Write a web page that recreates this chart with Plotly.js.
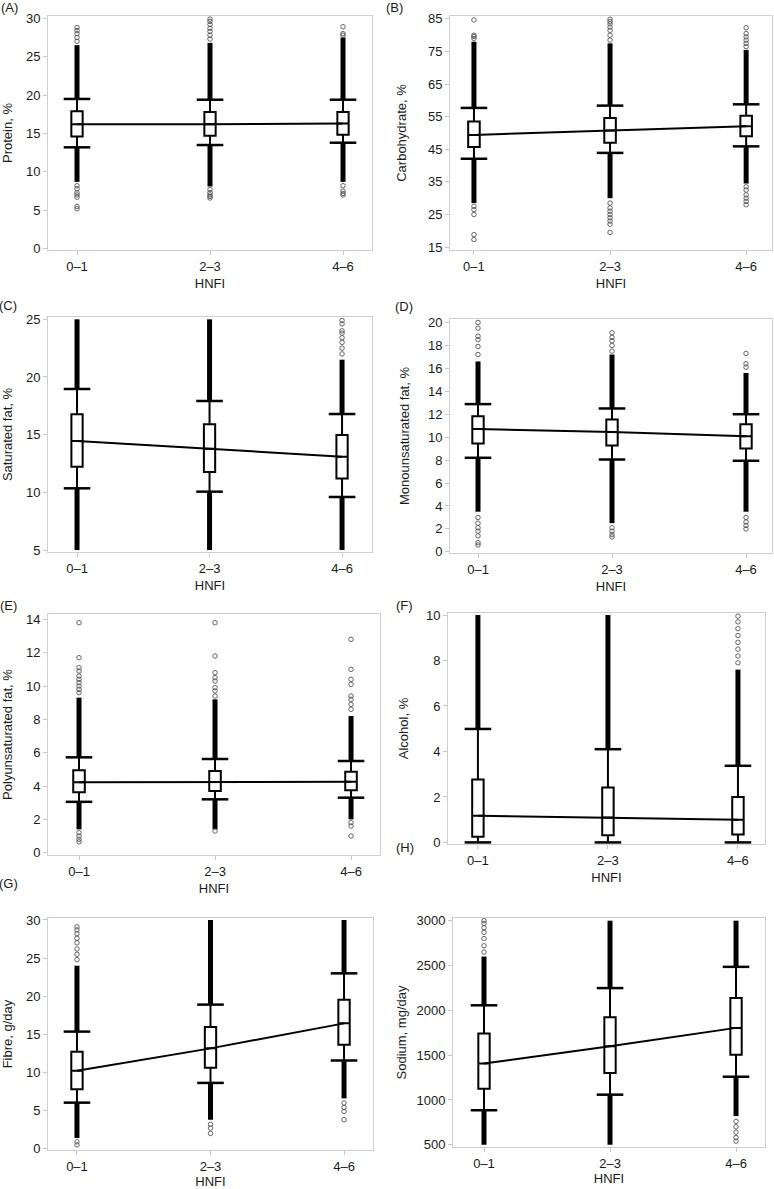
<!DOCTYPE html>
<html><head><meta charset="utf-8">
<script src="https://cdn.plot.ly/plotly-3.0.1.min.js"></script>
<style>html,body{margin:0;padding:0;background:#fff}#chart{width:774px;height:1189px}</style>
</head><body><div id="chart"></div>
<script>
// ---------- DATA ----------
const categories = ['0–1', '2–3', '4–6'];

// (A) Protein, %
const proteinQ1 = [14.6, 14.7, 14.85];
const proteinMedian = [16.2, 16.2, 16.3];
const proteinQ3 = [17.9, 17.8, 17.8];
const proteinLowWhisker = [13.2, 13.5, 13.8];
const proteinHighWhisker = [19.5, 19.4, 19.4];
const proteinDenseHigh = [26.5, 26.8, 27.5];
const proteinDenseLow = [8.7, 8.1, 8.7];
const proteinOutliers = [
  [27.0, 27.5, 28.0, 28.4, 28.8, 8.2, 7.8, 7.3, 7.0, 6.7, 5.5, 5.2],
  [27.3, 27.8, 28.3, 28.7, 29.2, 29.6, 29.9, 7.7, 7.3, 7.0, 6.8, 6.6],
  [27.8, 28.0, 28.9, 8.2, 7.5, 7.2, 7.0]
];

// (B) Carbohydrate, %
const carbQ1 = [45.7, 47.0, 49.0];
const carbMedian = [49.4, 50.8, 52.1];
const carbQ3 = [53.5, 54.6, 55.3];
const carbLowWhisker = [42.1, 43.9, 45.9];
const carbHighWhisker = [57.7, 58.4, 58.8];
const carbDenseHigh = [78.0, 77.5, 75.5];
const carbDenseLow = [28.5, 30.0, 34.5];
const carbOutliers = [
  [79.0, 79.6, 80.0, 84.7, 27.5, 26.5, 25.0, 18.8, 17.3],
  [78.5, 80.0, 81.5, 82.5, 83.5, 84.2, 84.9, 28.5, 27.0, 26.0, 25.0, 24.0, 23.0, 22.0, 19.5],
  [76.5, 77.5, 78.5, 79.5, 80.5, 82.3, 33.5, 32.5, 31.0, 30.0, 29.0, 28.0]
];

// (C) Saturated fat, %
const satQ1 = [12.23, 11.76, 11.21];
const satMedian = [14.45, 13.79, 13.09];
const satQ3 = [16.76, 15.9, 14.97];
const satLowWhisker = [10.35, 10.06, 9.6];
const satHighWhisker = [18.96, 17.92, 16.79];
const satDenseHigh = [25.0, 25.0, 21.5];
const satDenseLow = [5.0, 5.0, 5.0];
const satOutliers = [
  [],
  [],
  [22.0, 22.5, 23.0, 23.4, 23.8, 24.0, 24.6, 24.9]
];

// (D) Monounsaturated fat, %
const monoQ1 = [9.45, 9.27, 9.01];
const monoMedian = [10.7, 10.45, 10.07];
const monoQ3 = [11.83, 11.54, 11.13];
const monoLowWhisker = [8.2, 8.05, 7.94];
const monoHighWhisker = [12.88, 12.5, 12.0];
const monoDenseHigh = [16.6, 17.2, 15.6];
const monoDenseLow = [3.5, 2.5, 3.5];
const monoOutliers = [
  [17.2, 17.9, 18.5, 18.8, 19.5, 20.0, 3.0, 2.5, 2.1, 1.8, 1.4, 0.8, 0.6],
  [17.5, 18.0, 18.4, 18.7, 19.1, 2.1, 1.8, 1.5, 1.3],
  [16.1, 16.4, 17.3, 3.0, 2.6, 2.3, 2.0]
];

// (E) Polyunsaturated fat, %
const polyQ1 = [3.62, 3.7, 3.75];
const polyMedian = [4.22, 4.24, 4.25];
const polyQ3 = [4.95, 4.9, 4.85];
const polyLowWhisker = [3.05, 3.2, 3.3];
const polyHighWhisker = [5.72, 5.62, 5.5];
const polyDenseHigh = [9.3, 9.2, 8.2];
const polyDenseLow = [1.4, 1.4, 2.0];
const polyOutliers = [
  [9.6, 9.8, 10.0, 10.2, 10.4, 10.6, 10.9, 11.1, 11.7, 13.8, 1.2, 1.0, 0.8, 0.65],
  [9.4, 9.7, 9.9, 10.3, 10.5, 10.8, 11.8, 13.8, 1.3],
  [8.6, 8.9, 9.2, 9.4, 10.1, 10.4, 11.0, 12.8, 1.8, 1.6, 1.0]
];

// (F) Alcohol, %
const alcQ1 = [0.25, 0.32, 0.35];
const alcMedian = [1.17, 1.1, 1.0];
const alcQ3 = [2.77, 2.42, 2.0];
const alcLowWhisker = [0, 0, 0];
const alcHighWhisker = [4.99, 4.1, 3.37];
const alcDenseHigh = [10.0, 10.0, 7.6];
const alcDenseLow = [0, 0, 0];
const alcOutliers = [
  [],
  [],
  [7.9, 8.2, 8.5, 8.8, 9.1, 9.4, 9.7, 9.95]
];

// (G) Fibre, g/day
const fibreQ1 = [7.81, 10.62, 13.64];
const fibreMedian = [10.23, 13.16, 16.44];
const fibreQ3 = [12.73, 15.97, 19.55];
const fibreLowWhisker = [6.04, 8.63, 11.57];
const fibreHighWhisker = [15.36, 18.9, 23.0];
const fibreDenseHigh = [24.0, 30.0, 30.0];
const fibreDenseLow = [1.4, 3.8, 6.6];
const fibreOutliers = [
  [24.8, 25.5, 26.2, 27.0, 27.6, 28.2, 28.7, 29.1, 0.9, 0.5],
  [3.2, 2.7, 2.0],
  [6.0, 5.4, 4.9, 3.8]
];

// (H) Sodium, mg/day
const sodiumQ1 = [1126, 1300, 1504];
const sodiumMedian = [1407, 1600, 1804];
const sodiumQ3 = [1741, 1922, 2137];
const sodiumLowWhisker = [885, 1059, 1259];
const sodiumHighWhisker = [2056, 2248, 2485];
const sodiumDenseHigh = [2600, 3000, 3000];
const sodiumDenseLow = [500, 500, 820];
const sodiumOutliers = [
  [2650, 2720, 2800, 2870, 2920, 2970, 3000],
  [],
  [760, 700, 640, 580, 540]
];

// y-axis tick labels
const proteinTicks = [0, 5, 10, 15, 20, 25, 30];
const carbTicks = [15, 25, 35, 45, 55, 65, 75, 85];
const satTicks = [5, 10, 15, 20, 25];
const monoTicks = [0, 2, 4, 6, 8, 10, 12, 14, 16, 18, 20];
const polyTicks = [0, 2, 4, 6, 8, 10, 12, 14];
const alcTicks = [0, 2, 4, 6, 8, 10];
const fibreTicks = [0, 5, 10, 15, 20, 25, 30];
const sodiumTicks = [500, 1000, 1500, 2000, 2500, 3000];

const panelLabels = ['(A)', '(B)', '(C)', '(D)', '(E)', '(F)', '(G)', '(H)'];
const yTitles = ['Protein, %', 'Carbohydrate, %', 'Saturated fat, %', 'Monounsaturated fat, %',
  'Polyunsaturated fat, %', 'Alcohol, %', 'Fibre, g/day', 'Sodium, mg/day'];
const xTitle = 'HNFI';

// ---------- PANELS ----------
const panels = [
  {q1: proteinQ1, med: proteinMedian, q3: proteinQ3, lw: proteinLowWhisker, uw: proteinHighWhisker, dh: proteinDenseHigh, dl: proteinDenseLow, out: proteinOutliers, ticks: proteinTicks},
  {q1: carbQ1, med: carbMedian, q3: carbQ3, lw: carbLowWhisker, uw: carbHighWhisker, dh: carbDenseHigh, dl: carbDenseLow, out: carbOutliers, ticks: carbTicks},
  {q1: satQ1, med: satMedian, q3: satQ3, lw: satLowWhisker, uw: satHighWhisker, dh: satDenseHigh, dl: satDenseLow, out: satOutliers, ticks: satTicks},
  {q1: monoQ1, med: monoMedian, q3: monoQ3, lw: monoLowWhisker, uw: monoHighWhisker, dh: monoDenseHigh, dl: monoDenseLow, out: monoOutliers, ticks: monoTicks},
  {q1: polyQ1, med: polyMedian, q3: polyQ3, lw: polyLowWhisker, uw: polyHighWhisker, dh: polyDenseHigh, dl: polyDenseLow, out: polyOutliers, ticks: polyTicks},
  {q1: alcQ1, med: alcMedian, q3: alcQ3, lw: alcLowWhisker, uw: alcHighWhisker, dh: alcDenseHigh, dl: alcDenseLow, out: alcOutliers, ticks: alcTicks},
  {q1: fibreQ1, med: fibreMedian, q3: fibreQ3, lw: fibreLowWhisker, uw: fibreHighWhisker, dh: fibreDenseHigh, dl: fibreDenseLow, out: fibreOutliers, ticks: fibreTicks},
  {q1: sodiumQ1, med: sodiumMedian, q3: sodiumQ3, lw: sodiumLowWhisker, uw: sodiumHighWhisker, dh: sodiumDenseHigh, dl: sodiumDenseLow, out: sodiumOutliers, ticks: sodiumTicks}
];

// layout geometry (pixels): frame left, right, top, bottom; axis ranges
const W = 774, H = 1189;
const frames = [
  [48, 372, 16, 250], [450, 772, 16, 250],
  [48, 372, 317, 552], [450, 772, 319, 553],
  [48, 380, 614, 855], [448, 765, 613, 844],
  [48, 373, 918, 1150], [453, 765, 918, 1147]
];
const yRanges = [[-0.17, 30.3], [14.1, 85.9], [4.83, 25.2], [-0.1, 20.3],
  [-0.14, 14.32], [-0.07, 10.09], [-0.17, 30.26], [475, 3030]];
const xRanges = [[-0.218, 2.218], [-0.176, 2.19], [-0.219, 2.226], [-0.209, 2.194],
  [-0.228, 2.213], [-0.23, 2.208], [-0.217, 2.217], [-0.246, 2.23]];
const boxW = [0.085, 0.085, 0.085, 0.085, 0.085, 0.088, 0.085, 0.09];
const yTitleStandoff = [10, 18, 10, 15, 10, 14, 10, 6];
const xTitleStandoff = [6, 6, 6, 6, 6, 6, 4, 4];
const labelPos = [[9, 7], [394, 7], [8, 305], [404, 307], [8, 605], [404, 605], [8, 883], [405, 847]];

const FONT = 'Liberation Sans, Arial, Helvetica, sans-serif';
const traces = [];
const layout = {
  width: W, height: H, margin: {l: 0, r: 0, t: 0, b: 0},
  paper_bgcolor: '#fff', plot_bgcolor: '#fff', showlegend: false,
  font: {family: FONT, size: 13, color: '#1a1a1a'},
  annotations: []
};

panels.forEach((p, i) => {
  const n = i === 0 ? '' : String(i + 1);
  const xa = 'x' + n, ya = 'y' + n;
  // dense outlier bands
  const bx = [], by = [];
  categories.forEach((c, k) => {
    if (p.dh[k] > p.uw[k]) { bx.push(c, c, null); by.push(p.uw[k], p.dh[k], null); }
    if (p.dl[k] < p.lw[k]) { bx.push(c, c, null); by.push(p.lw[k], p.dl[k], null); }
  });
  traces.push({type: 'scatter', mode: 'lines', x: bx, y: by, xaxis: xa, yaxis: ya,
    line: {color: '#000', width: 5}, hoverinfo: 'skip'});
  // sparse outliers
  const ox = [], oy = [];
  categories.forEach((c, k) => p.out[k].forEach(v => { ox.push(c); oy.push(v); }));
  traces.push({type: 'scatter', mode: 'markers', x: ox, y: oy, xaxis: xa, yaxis: ya,
    marker: {symbol: 'circle-open', size: 4.5, color: '#555', line: {width: 0.9, color: '#555'}}});
  // box
  traces.push({type: 'box', x: categories, q1: p.q1, median: p.med, q3: p.q3,
    lowerfence: p.lw, upperfence: p.uw, xaxis: xa, yaxis: ya, boxpoints: false,
    fillcolor: '#fff', line: {color: '#000', width: 2}, width: boxW[i], whiskerwidth: 0});
  // whisker caps
  const cx = [], cy = [];
  categories.forEach((c, k) => { cx.push(c, c); cy.push(p.lw[k], p.uw[k]); });
  traces.push({type: 'scatter', mode: 'markers', x: cx, y: cy, xaxis: xa, yaxis: ya,
    marker: {symbol: 'line-ew', size: 19, color: '#000', line: {width: 2.5, color: '#000'}}});
  // median connecting line
  traces.push({type: 'scatter', mode: 'lines', x: categories, y: p.med, xaxis: xa, yaxis: ya,
    line: {color: '#000', width: 2}});

  const f = frames[i];
  const axCommon = {showline: true, mirror: true, linecolor: '#cfcfcf', linewidth: 1,
    showgrid: false, zeroline: false, ticks: 'outside', ticklen: 4, tickcolor: '#c8c8c8',
    tickfont: {family: FONT, size: 13, color: '#1a1a1a'}, fixedrange: true};
  layout['xaxis' + n] = Object.assign({}, axCommon, {
    domain: [f[0] / W, f[1] / W], anchor: ya, type: 'category', range: xRanges[i],
    title: {text: xTitle, font: {family: FONT, size: 13, color: '#1a1a1a'}, standoff: xTitleStandoff[i]}
  });
  layout['yaxis' + n] = Object.assign({}, axCommon, {
    domain: [1 - f[3] / H, 1 - f[2] / H], anchor: xa, range: yRanges[i],
    tickvals: p.ticks, ticktext: p.ticks.map(String),
    title: {text: yTitles[i], font: {family: FONT, size: 13, color: '#1a1a1a'}, standoff: yTitleStandoff[i]}
  });
  layout.annotations.push({text: panelLabels[i], xref: 'paper', yref: 'paper',
    x: labelPos[i][0] / W, y: 1 - labelPos[i][1] / H, xanchor: 'center', yanchor: 'middle',
    showarrow: false, font: {family: FONT, size: 13, color: '#1a1a1a'}});
});

Plotly.newPlot('chart', traces, layout, {staticPlot: true, displayModeBar: false});
</script>
</body></html>
